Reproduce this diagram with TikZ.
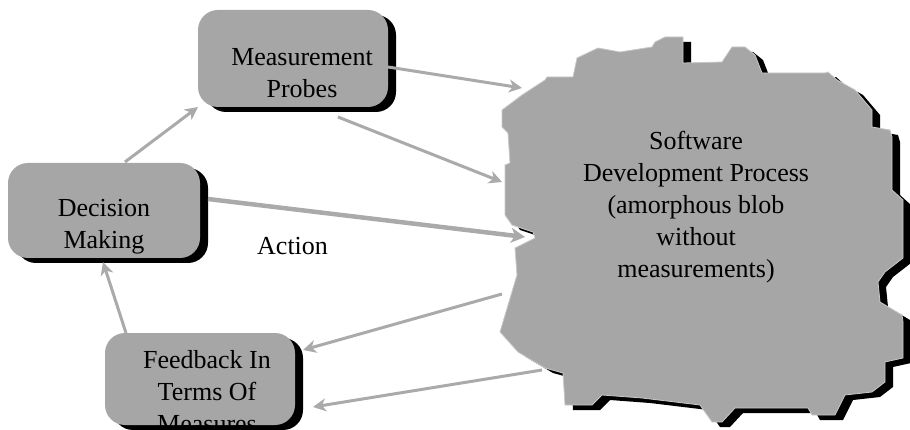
\documentclass[tikz,border=0pt]{standalone}
\usepackage{fontspec}
\setmainfont{Liberation Serif}
\usetikzlibrary{arrows.meta,shadows}
\definecolor{boxgray}{RGB}{166,166,166}
\definecolor{arrgray}{RGB}{170,170,170}
\definecolor{rimgray}{RGB}{200,200,200}
\tikzset{
  shad/.style={drop shadow={shadow xshift=8pt,shadow yshift=-5pt,fill=black,opacity=1}},
  rbox/.style={rounded corners=20pt,fill=boxgray,draw=none,shad,inner sep=0pt},
  lbl/.style={font=\fontsize{26}{32}\selectfont,align=center,inner sep=0pt,anchor=north},
  conn/.style={draw=arrgray,line width=3pt,-{Stealth[length=13pt,width=13pt,inset=4pt]}},
  thick conn/.style={draw=arrgray,line width=4.5pt,-{Stealth[length=14pt,width=15pt,inset=4pt]}}
}
\begin{document}
\begin{tikzpicture}[x=1pt,y=-1pt]
\useasboundingbox (0,0) rectangle (910,430);
% blob
\path[fill=boxgray,draw=rimgray,line width=0.8pt,shad]
 (502,110)--(522,95)--(545,80)--(547,77)--(573,77)--(577,58)--(598,48)--(620,52)--(652,47)--(655,42)--(665,37)--(683,37)--(683,63)--(722,62)--(732,47)--(745,47)--(755,55)--(762,73)--(825,73)--(828,72)--(837,80)--(855,90)--(872,110)--(872,127)--(890,130)--(892,137)--(892,190)--(903,200)--(903,258)--(885,272)--(878,282)--(880,302)--(902,315)--(903,322)--(903,358)--(885,362)--(885,382)--(872,392)--(845,395)--(835,415)--(812,415)--(808,408)--(735,408)--(722,422)--(712,422)--(700,405)--(642,398)--(602,395)--(592,405)--(565,405)--(563,373)--(545,368)--(518,352)--(500,332)--(517,275)--(515,248)--(535,238)--(533,232)--(512,225)--(505,215)--(505,183)--(505,165)--(510,163)--(508,133)--(502,127)--cycle;
\node[lbl] (blob) at (696,131) {Software\\Development Process\\(amorphous blob\\without\\measurements)};
% boxes
\node[rbox,minimum width=190pt,minimum height=97pt] (mp) at (293,58.5) {};
\node[lbl] (mpt) at (302,48) {Measurement\\Probes};
\node[rbox,minimum width=192pt,minimum height=95pt] (dm) at (104,210.5) {};
\node[lbl] (dmt) at (104,199) {Decision\\Making};
\node[rbox,minimum width=190pt,minimum height=92pt] (fb) at (200,379) {};
\begin{scope}
\clip (fb.south west) rectangle (fb.north east);
\node[lbl] (fbt) at (207,350) {Feedback In\\Terms Of\\Measures};
\end{scope}
\node[font=\fontsize{26}{32}\selectfont,inner sep=0pt,anchor=base west] (act) at (257,255) {Action};
% connector ends
\coordinate (a1s) at (125,162); \coordinate (a1e) at (198,107);
\coordinate (a2s) at (388,67);  \coordinate (a2e) at (522,88);
\coordinate (a3s) at (338,117); \coordinate (a3e) at (502,182);
\coordinate (a4s) at (208,199); \coordinate (a4e) at (525,237);
\coordinate (a5s) at (502,294); \coordinate (a5e) at (303,350);
\coordinate (a6s) at (542,370); \coordinate (a6e) at (313,407);
\coordinate (a7s) at (126,333); \coordinate (a7e) at (103,262);
\draw[conn] (a1s) -- (a1e);
\draw[conn] (a2s) -- (a2e);
\draw[conn] (a3s) -- (a3e);
\draw[thick conn] (a4s) -- (a4e);
\draw[conn] (a5s) -- (a5e);
\draw[conn] (a6s) -- (a6e);
\draw[conn] (a7s) -- (a7e);
\end{tikzpicture}
\end{document}
